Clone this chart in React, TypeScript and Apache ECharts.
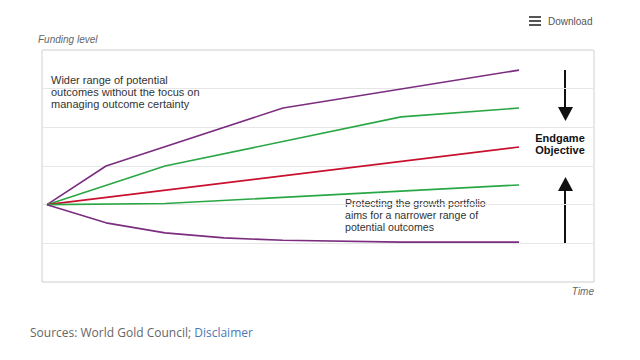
import React, { useEffect, useRef } from "react";
import * as echarts from "echarts";

const timePoints = [0, 1, 2, 3, 4, 6, 8];
const purpleUpper = [2, 3.0, null, null, 4.5, null, 5.48];
const greenUpper = [2, null, 3.0, null, null, 4.27, 4.5];
const redMiddle = [2, null, null, null, null, null, 3.49];
const greenLower = [2, null, 2.03, null, null, null, 2.51];
const purpleLower = [2, 1.53, 1.27, 1.14, 1.08, 1.03, 1.03];

const seriesDefs = [
  { name: "Upper wide", data: purpleUpper, color: "#7b2d7f" },
  { name: "Upper narrow", data: greenUpper, color: "#2aa745" },
  { name: "Central", data: redMiddle, color: "#c8102e" },
  { name: "Lower narrow", data: greenLower, color: "#2aa745" },
  { name: "Lower wide", data: purpleLower, color: "#7b2d7f" },
];

const wideNote = [
  "Wider range of potential",
  "outcomes without the focus on",
  "managing outcome certainty",
];
const narrowNote = [
  "Protecting the growth portfolio",
  "aims for a narrower range of",
  "potential outcomes",
];

export default function App() {
  const ref = useRef<HTMLDivElement>(null);
  useEffect(() => {
    document.body.style.margin = "0";
    const chart = echarts.init(ref.current!, null, { renderer: "svg" });
    const font = "'Liberation Sans', Arial, sans-serif";
    chart.setOption({
      animation: false,
      grid: {
        left: 42,
        top: 50,
        right: 46,
        bottom: 78,
        show: true,
        borderColor: "#cfcfcf",
        borderWidth: 1,
      },
      xAxis: {
        type: "value",
        min: -0.085,
        max: 9.27,
        axisLine: { show: false },
        axisTick: { show: false },
        axisLabel: { show: false },
        splitLine: { show: false },
      },
      yAxis: {
        type: "value",
        min: 0,
        max: 6,
        interval: 1,
        axisLine: { show: false },
        axisTick: { show: false },
        axisLabel: { show: false },
        splitLine: { lineStyle: { color: "#e6e6e6", width: 1 } },
      },
      series: seriesDefs.map((s) => ({
        type: "line",
        name: s.name,
        data: timePoints.map((t, i) => [t, s.data[i]]),
        connectNulls: true,
        showSymbol: false,
        symbol: "none",
        lineStyle: { color: s.color, width: 1.6 },
        itemStyle: { color: s.color },
      })),
      title: {
        left: 30,
        top: 326,
        padding: 0,
        text: "{a|Sources: World Gold Council; }{b|Disclaimer}",
        textStyle: {
          fontWeight: "normal",
          rich: {
            a: { fontFamily: "'Open Sans', sans-serif", fontSize: 12, fontWeight: "normal", color: "#666" },
            b: { fontFamily: "'Open Sans', sans-serif", fontSize: 12, fontWeight: "normal", color: "#4a78b4" },
          },
        },
      },
      graphic: [
        { type: "rect", shape: { x: 529, y: 16, width: 12, height: 2 }, style: { fill: "#555" } },
        { type: "rect", shape: { x: 529, y: 20, width: 12, height: 2 }, style: { fill: "#555" } },
        { type: "rect", shape: { x: 529, y: 24, width: 12, height: 2 }, style: { fill: "#555" } },
        {
          type: "text",
          x: 548,
          y: 21,
          style: { text: "Download", fontSize: 10, fontFamily: font, fill: "#555", verticalAlign: "middle" },
        },
        {
          type: "text",
          x: 38,
          y: 39,
          style: { text: "Funding level", fontSize: 10, fontStyle: "italic", fontFamily: font, fill: "#666", verticalAlign: "middle" },
        },
        {
          type: "text",
          x: 594,
          y: 291,
          style: { text: "Time", fontSize: 10, fontStyle: "italic", fontFamily: font, fill: "#666", align: "right", verticalAlign: "middle" },
        },
        {
          type: "text",
          x: 51,
          y: 74,
          style: { text: wideNote.join("\n"), fontSize: 11, lineHeight: 12, fontFamily: font, fill: "#333" },
        },
        {
          type: "text",
          x: 345,
          y: 197,
          style: { text: narrowNote.join("\n"), fontSize: 10.6, lineHeight: 12, fontFamily: font, fill: "#333" },
        },
        {
          type: "text",
          x: 560,
          y: 144,
          style: { text: "Endgame\nObjective", fontSize: 11, lineHeight: 12, fontWeight: "bold", fontFamily: font, fill: "#111", align: "center", verticalAlign: "middle" },
        },
        { type: "line", shape: { x1: 565, y1: 70, x2: 565, y2: 110 }, style: { stroke: "#111", lineWidth: 2 } },
        { type: "polygon", shape: { points: [[558, 107], [573, 107], [565.5, 121]] }, style: { fill: "#111" } },
        { type: "line", shape: { x1: 565, y1: 188, x2: 565, y2: 243 }, style: { stroke: "#111", lineWidth: 2 } },
        { type: "polygon", shape: { points: [[558, 191], [573, 191], [565.5, 177]] }, style: { fill: "#111" } },
      ],
    });
    return () => chart.dispose();
  }, []);
  return <div ref={ref} style={{ width: 640, height: 360 }} />;
}
